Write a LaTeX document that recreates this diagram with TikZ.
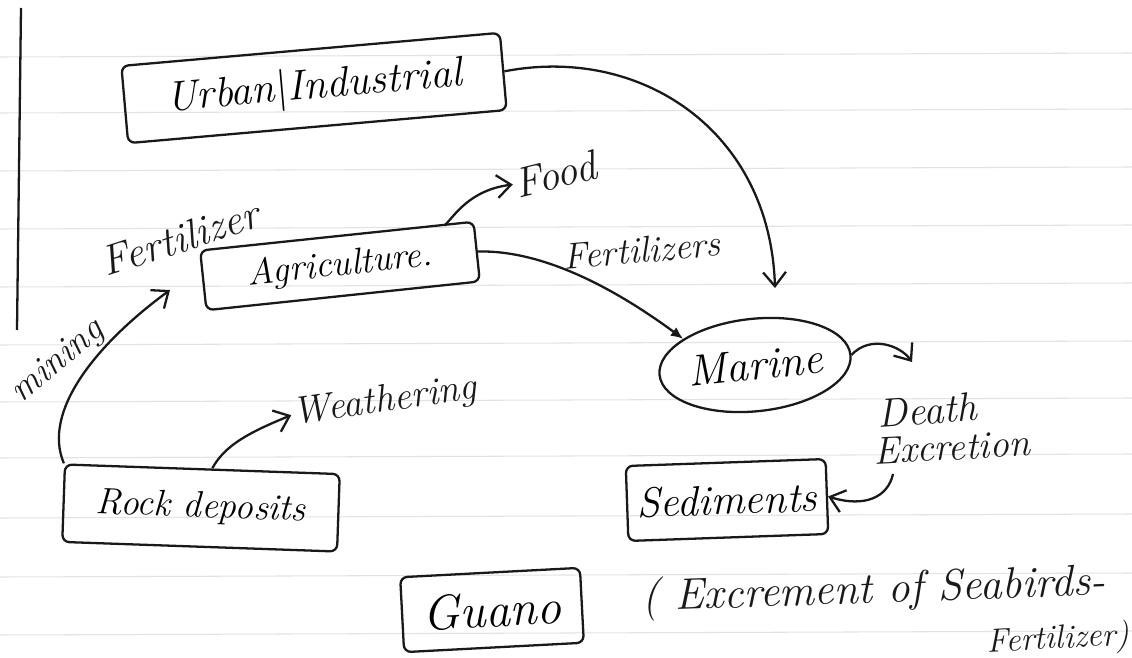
\documentclass[tikz,border=0pt]{standalone}
\usetikzlibrary{arrows.meta,shapes.geometric}
\newcommand{\fsz}[1]{\fontsize{#1}{#1}\selectfont\itshape}
\begin{document}
\begin{tikzpicture}[x=0.02cm,y=-0.02cm,
  ink/.style={line width=1.3pt, draw=black!90},
  boxnode/.style={ink, rectangle, rounded corners=4pt, inner sep=0pt},
  lbl/.style={inner sep=1pt, text=black!90},
  flow/.style={ink, -{Straight Barb[length=8pt,width=13pt,line width=1.3pt]}},
  ruled/.style={draw=gray!22, line width=0.6pt}]
\useasboundingbox (0,0) rectangle (1132,658);
\fill[white] (0,0) rectangle (1132,658);

% notebook rulings and margin
\foreach \y in {57,113,171,229,287,345,402,458,518,577,635}
  \draw[ruled] (0,\y) -- (1132,\y-4);
\draw[ink] (21,8) -- (17,330);

% boxes
\node[boxnode, minimum width=7.6cm, minimum height=1.55cm, rotate=5, font=\fsz{24}]
  (urban) at (314,88) {Urban\textup{|}Industrial};
\node[boxnode, minimum width=5.5cm, minimum height=1.2cm, rotate=6, font=\fsz{21}]
  (agri) at (340,266) {Agriculture.};
\node[ellipse, ink, minimum width=3.4cm, minimum height=1.85cm, inner sep=0pt, rotate=6, font=\fsz{25}]
  (marine) at (755,365) {Marine};
\node[boxnode, minimum width=4.0cm, minimum height=1.5cm, rotate=2, font=\fsz{24}]
  (sed) at (727,500) {Sediments};
\node[boxnode, minimum width=5.5cm, minimum height=1.55cm, rotate=-2, font=\fsz{21}]
  (rock) at (201,508) {Rock deposits};
\node[boxnode, minimum width=3.6cm, minimum height=1.5cm, rotate=3, font=\fsz{28}]
  (guano) at (492,610) {Guano};

% labels
\node[lbl, rotate=14, font=\fsz{24}] (food) at (555,174) {Food};
\node[lbl, rotate=18, font=\fsz{24}] (fertl) at (180,238) {Fertilizer};
\node[lbl, rotate=40, font=\fsz{21}] (mining) at (58,362) {mining};
\node[lbl, rotate=5, font=\fsz{21}] (fertr) at (642,250) {Fertilizers};
\node[lbl, rotate=8, font=\fsz{22}] (weath) at (385,402) {Weathering};
\node[lbl, rotate=4, font=\fsz{23}] (death) at (927,410) {Death};
\node[lbl, rotate=3, font=\fsz{22}] (excr) at (952,447) {Excretion};
\node[lbl, rotate=2, font=\fsz{25}, anchor=west] (note) at (640,600) {( Excrement of Seabirds-};
\node[lbl, rotate=3, font=\fsz{19}] (note2) at (1058,640) {Fertilizer)};

% end points of the open arrows
\coordinate (urbanTip) at (775,288);
\coordinate (miningTip) at (170,290);
\coordinate (marineTip) at (912,362);
\coordinate (excrFoot) at (893,474);

% flows
\draw[flow] (urban.east) .. controls (640,45) and (770,130) .. (urbanTip);
\draw[flow] (agri.north east) ++(-30,5) .. controls (455,215) and (470,190) .. (food.west);
\draw[flow] (rock.north west) .. controls (42,412) and (95,345) .. (miningTip);
\draw[flow] (rock.north) ++(10,0) .. controls (225,445) and (250,432) .. (weath.west);
\draw[ink, -{Latex[length=7pt,width=6pt]}] (agri.east) .. controls (540,250) and (610,285) .. (marine.north west);
\draw[flow] (marine.east) .. controls (870,335) and (900,345) .. (marineTip);
\draw[flow] (excrFoot) .. controls (888,497) and (865,508) .. (sed.east);
\end{tikzpicture}
\end{document}
